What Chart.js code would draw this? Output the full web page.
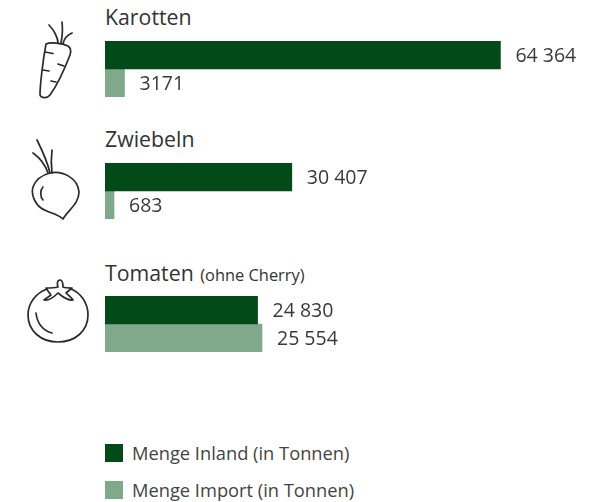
<!DOCTYPE html>
<html lang="de"><head><meta charset="utf-8">
<script src="https://cdn.jsdelivr.net/npm/chart.js@4"></script>
<style>
html,body{margin:0;padding:0;background:#fff;overflow:hidden}
body{width:610px;height:502px;position:relative;font-family:"Open Sans",sans-serif;color:#333}
canvas{position:absolute;left:105px}
.t{position:absolute;left:105px;font-size:21.3px;line-height:24px;white-space:nowrap}
.t small{font-size:16.4px;margin-left:1px}
.l{position:absolute;left:132px;font-size:18.3px;line-height:20px;white-space:nowrap;color:#444}
.s{position:absolute;left:105px;width:18px;height:18px}
svg{position:absolute;left:0;top:0}
svg *{fill:none;stroke:#2b2b2b;stroke-width:1.7;stroke-linecap:round;stroke-linejoin:round}
</style></head><body>
<svg width="105" height="360" viewBox="0 0 105 360">
<path d="M46 44C50 42 62 43 68 46C71 48 71 52 70 55C65 68 58 84 50 95C47 99 41 98 40 95C40 85 43 60 46 44Z"/>
<path d="M49 25C54 30 58 38 58 43M62 22C63 30 62 38 61 43M72 33C67 35 64 39 63 44M45 52L53 53.5M58 64L64 66M43 70L49 71M51 81L56 82"/>
<path d="M50 173C62 170 78 178 79 192C79 204 68 210 63 219C57 213 48 213 41 208C34 203 31 193 33 187C36 179 42 175 50 173Z"/>
<path d="M37 140C42 150 47 160 50 173M33 153C40 158 45 164 48 173M52 150C51 158 51 165 52 173M43 187C40 190 40 197 43 200"/>
<path d="M47 289C36 293 28 303 28 315C28 331 41 342 58 342C75 342 88 331 88 315C88 303 81 293 71 289"/>
<path d="M60 280C57 280 57 284 58 287C54 288 50 288 46 288C48 291 50 294 51 295L44 300C49 301 54 297 58 293C62 296 67 301 73 300C71 297 68 295 66 293L72 288C68 288 65 288 63 287C63 284 63 280 60 280Z"/>
<path d="M36 313C37 323 43 331 52 333"/>
</svg>
<div class="t" style="top:5px">Karotten</div>
<div class="t" style="top:127px">Zwiebeln</div>
<div class="t" style="top:261px">Tomaten <small>(ohne Cherry)</small></div>
<canvas id="c0" width="505" height="56" style="top:41px"></canvas>
<canvas id="c1" width="505" height="56" style="top:163px"></canvas>
<canvas id="c2" width="505" height="56" style="top:296px"></canvas>
<div class="s" style="top:444px;background:#024a18"></div><div class="l" style="top:443px">Menge Inland (in Tonnen)</div>
<div class="s" style="top:481px;background:#80a88a"></div><div class="l" style="top:480px">Menge Import (in Tonnen)</div>
<script>
const categories = ["Karotten", "Zwiebeln", "Tomaten"];
const inlandValues = [64364, 30407, 24830];
const importValues = [3171, 683, 25554];
const inlandLabels = ["64 364", "30 407", "24 830"];
const importLabels = ["3171", "683", "25 554"];
const seriesNames = ["Menge Inland (in Tonnen)", "Menge Import (in Tonnen)"];
const axisMax = 82200;

const valueLabels = {
  id: "valueLabels",
  afterDatasetsDraw(chart) {
    const c = chart.ctx;
    c.save();
    c.font = "19.5px 'Open Sans', sans-serif";
    c.fillStyle = "#3a3a3a";
    c.textBaseline = "middle";
    chart.data.datasets.forEach((d, i) => {
      const el = chart.getDatasetMeta(i).data[0];
      c.fillText(d.valueText, el.x + 15, el.y + 1);
    });
    c.restore();
  }
};
categories.forEach((cat, i) => {
  new Chart(document.getElementById("c" + i), {
    type: "bar",
    data: {
      labels: [cat],
      datasets: [
        {label: seriesNames[0], data: [inlandValues[i]], valueText: inlandLabels[i], backgroundColor: "#024a18", minBarLength: 9},
        {label: seriesNames[1], data: [importValues[i]], valueText: importLabels[i], backgroundColor: "#80a88a", minBarLength: 9}
      ]
    },
    options: {
      indexAxis: "y",
      responsive: false,
      animation: false,
      layout: {padding: 0},
      barPercentage: 1,
      categoryPercentage: 1,
      plugins: {legend: {display: false}, tooltip: {enabled: false}, title: {display: false}},
      scales: {
        x: {display: false, min: 0, max: axisMax},
        y: {display: false}
      }
    },
    plugins: [valueLabels]
  });
});
</script>
</body></html>
